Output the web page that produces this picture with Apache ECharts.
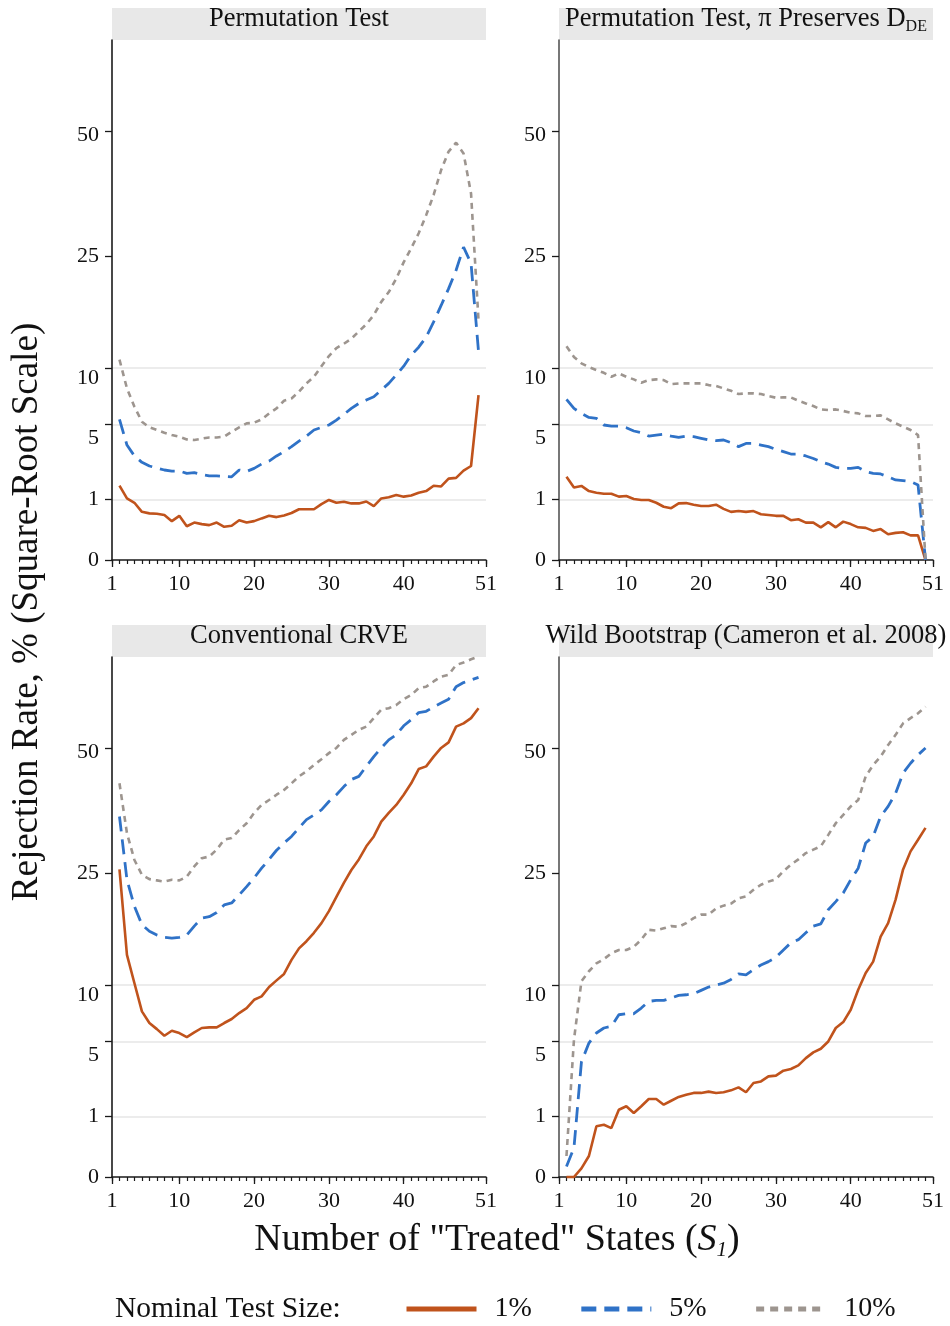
<!DOCTYPE html>
<html>
<head>
<meta charset="utf-8">
<script src="https://cdn.jsdelivr.net/npm/echarts@6/dist/echarts.min.js"></script>
<style>
  html, body { margin: 0; padding: 0; background: #fff; }
  #chart { width: 950px; height: 1326px; }
</style>
</head>
<body>
<div id="chart"></div>
<script>
// number of "treated" states on the x axis
const states = [2, 3, 4, 5, 6, 7, 8, 9, 10, 11, 12, 13, 14, 15, 16, 17, 18, 19, 20, 21, 22, 23, 24, 25, 26,
  27, 28, 29, 30, 31, 32, 33, 34, 35, 36, 37, 38, 39, 40, 41, 42, 43, 44, 45, 46, 47, 48, 49, 50]

// rejection rates in percent, one array per panel and nominal size
const permOne = [1.50, 1.03, 0.89, 0.63, 0.59, 0.58, 0.55, 0.41, 0.53, 0.31, 0.38, 0.35, 0.33, 0.38, 0.30, 0.32, 0.43,
  0.38, 0.41, 0.47, 0.53, 0.50, 0.54, 0.60, 0.70, 0.70, 0.70, 0.85, 0.98, 0.89, 0.92, 0.87, 0.87, 0.93, 0.79, 1.03,
  1.07, 1.15, 1.09, 1.13, 1.23, 1.29, 1.50, 1.47, 1.80, 1.83, 2.17, 2.40, 7.39]
const permFive = [5.37, 3.59, 2.94, 2.59, 2.40, 2.30, 2.20, 2.15, 2.15, 2.04, 2.07, 1.98, 1.92, 1.92, 1.90, 1.88, 2.20,
  2.13, 2.28, 2.50, 2.66, 2.94, 3.19, 3.49, 3.84, 4.17, 4.59, 4.78, 4.95, 5.32, 5.76, 6.24, 6.66, 6.95, 7.24, 7.84,
  8.47, 9.3, 10.2, 11.4, 12.3, 13.5, 15.4, 17.6, 20.0, 22.8, 26.6, 23.9, 11.8]
const permTen = [10.9, 8.0, 6.38, 5.19, 4.78, 4.59, 4.40, 4.24, 4.13, 3.95, 3.91, 4.00, 4.08, 4.08, 4.13, 4.47, 4.78,
  5.07, 5.12, 5.37, 5.84, 6.24, 6.89, 7.09, 7.69, 8.47, 9.12, 10.2, 11.3, 12.2, 12.7, 13.3, 14.2, 15.1, 16.3, 18.1,
  19.5, 21.5, 24.1, 26.4, 29.0, 32.3, 36.2, 41.3, 45.3, 47.3, 44.9, 36.5, 15.6]

const presOne = [1.88, 1.43, 1.49, 1.29, 1.23, 1.19, 1.19, 1.09, 1.11, 1.01, 0.98, 0.98, 0.89, 0.77, 0.73, 0.87, 0.88,
  0.83, 0.79, 0.79, 0.83, 0.71, 0.63, 0.65, 0.63, 0.65, 0.57, 0.55, 0.53, 0.53, 0.43, 0.45, 0.38, 0.38, 0.29, 0.39,
  0.29, 0.40, 0.35, 0.29, 0.28, 0.23, 0.26, 0.18, 0.20, 0.21, 0.165, 0.165, 0]
const presFive = [7.01, 6.24, 5.84, 5.52, 5.45, 4.95, 4.87, 4.87, 4.75, 4.52, 4.40, 4.17, 4.24, 4.29, 4.17, 4.08, 4.17,
  4.13, 4.02, 3.91, 3.87, 3.91, 3.74, 3.49, 3.69, 3.69, 3.59, 3.49, 3.32, 3.19, 3.05, 3.05, 2.94, 2.80, 2.62, 2.50,
  2.33, 2.28, 2.28, 2.33, 2.12, 2.04, 2.01, 1.88, 1.74, 1.71, 1.67, 1.53, 0]
const presTen = [12.4, 11.2, 10.5, 10.1, 9.80, 9.52, 9.12, 9.46, 9.12, 8.86, 8.53, 8.79, 8.86, 8.79, 8.41, 8.47, 8.47,
  8.47, 8.47, 8.31, 8.22, 8.00, 7.78, 7.48, 7.54, 7.54, 7.48, 7.30, 7.15, 7.18, 7.18, 6.89, 6.66, 6.44, 6.16, 6.11,
  6.16, 6.03, 5.89, 5.84, 5.63, 5.63, 5.68, 5.37, 5.07, 4.83, 4.59, 4.24, 0]

const crveOne = [25.7, 13.4, 10.2, 7.45, 6.44, 5.94, 5.42, 5.81, 5.63, 5.32, 5.68, 6.03, 6.08, 6.08, 6.44, 6.78, 7.30,
  7.75, 8.53, 8.86, 9.80, 10.5, 11.2, 12.8, 14.2, 15.1, 16.2, 17.5, 19.2, 21.3, 23.5, 25.6, 27.4, 29.7, 31.5, 34.3,
  36.0, 37.6, 39.7, 42.1, 45.2, 45.8, 48.0, 50.0, 51.3, 55.1, 55.9, 57.2, 59.7]
const crveFive = [35.3, 24.0, 19.9, 17.3, 16.4, 15.9, 15.6, 15.5, 15.6, 15.9, 17.1, 18.2, 18.4, 19.0, 20.1, 20.4, 21.6,
  22.9, 24.3, 25.9, 27.4, 29.0, 30.3, 31.5, 33.1, 34.7, 35.6, 36.6, 38.3, 39.7, 41.4, 42.9, 43.6, 45.8, 48.0, 50.0,
  51.9, 53.1, 55.3, 56.8, 58.6, 58.9, 60.0, 61.0, 62.0, 65.3, 66.4, 67.1, 67.8]
const crveTen = [42.1, 32.1, 27.3, 24.8, 24.1, 23.9, 23.7, 24.0, 23.9, 24.5, 26.2, 27.6, 27.9, 29.1, 30.9, 31.2, 32.7,
  34.0, 36.0, 37.6, 38.6, 39.7, 40.7, 42.1, 43.6, 44.7, 46.1, 47.4, 48.8, 50.0, 51.9, 53.1, 54.3, 55.1, 57.2, 59.3,
  59.7, 60.5, 62.0, 63.1, 64.9, 65.3, 66.7, 68.0, 68.5, 71.2, 71.9, 72.8, 73.6]

const wildOne = [0, 0, 0.02, 0.12, 0.70, 0.74, 0.65, 1.23, 1.36, 1.11, 1.36, 1.65, 1.65, 1.42, 1.58, 1.74, 1.84,
  1.92, 1.92, 1.98, 1.92, 1.95, 2.04, 2.18, 1.95, 2.40, 2.48, 2.75, 2.79, 3.07, 3.17, 3.38, 3.84, 4.22, 4.47, 4.99,
  6.03, 6.52, 7.60, 9.52, 11.3, 12.6, 15.7, 17.5, 20.9, 25.7, 28.8, 30.9, 33.1]
const wildFive = [0.03, 0.23, 3.6, 4.87, 5.63, 6.03, 6.16, 7.15, 7.24, 7.24, 7.75, 8.38, 8.47, 8.47, 8.70, 8.96, 9.02,
  9.12, 9.46, 9.80, 10.0, 10.2, 10.6, 11.2, 11.1, 11.7, 12.2, 12.6, 13.1, 14.0, 14.9, 15.3, 16.2, 17.1, 17.4, 19.4,
  20.6, 21.9, 24.0, 25.9, 30.3, 31.5, 35.3, 37.3, 40.0, 44.3, 46.5, 48.4, 50.0]
const wildTen = [0.12, 5.12, 10.4, 11.5, 12.4, 12.9, 13.6, 14.0, 14.0, 14.4, 15.3, 16.6, 16.5, 16.8, 17.1, 17.0, 17.5,
  18.2, 18.7, 18.7, 19.6, 20.0, 20.3, 21.1, 21.4, 22.4, 23.2, 23.7, 24.1, 25.4, 26.5, 27.4, 28.5, 29.1, 29.7, 31.8,
  34.0, 35.6, 37.3, 38.6, 43.6, 46.1, 48.0, 50.7, 53.1, 55.9, 57.2, 58.4, 60.1]

const sizeNames = ['1%', '5%', '10%']
const xLabelValues = [1, 10, 20, 30, 40, 51]
const yTickPercents = [0, 1, 5, 10, 25, 50]
const yTickLabels = ['0', '1', '5', '10', '25', '50']
// the printed figure puts the labels on rounded root positions, not on the ticks
const yLabelRoots = [0, 1, 2, 3, 5, 7]
const gridPercents = [1, 5, 10]

const FONT = 'Liberation Serif'
const ROOT_TOP = 8.57
const PLOT_W = 374
const PLOT_H = 520

const lineStyles = [
  { color: '#c0531c', width: 2.6, type: 'solid' },
  { color: '#2f72c7', width: 2.8, type: [15, 8] },
  { color: '#9d958f', width: 2.6, type: [6, 5] }
]

const panels = [
  { title: 'Permutation Test', left: 112, top: 40, axisColor: '#1a1a1a', data: [permOne, permFive, permTen] },
  { title: '{t|Permutation Test, π Preserves D}{s|DE}', left: 559, top: 40, axisColor: '#555', data: [presOne, presFive, presTen] },
  { title: 'Conventional CRVE', left: 112, top: 657, axisColor: '#1a1a1a', data: [crveOne, crveFive, crveTen] },
  { title: 'Wild Bootstrap (Cameron et al. 2008)', left: 559, top: 657, axisColor: '#555', data: [wildOne, wildFive, wildTen] }
]

const chart = echarts.init(document.getElementById('chart'), null, { renderer: 'canvas' })

const allStates = []
for (let s = 1; s <= 51; s++) allStates.push(s)

const option = {
  animation: false,
  backgroundColor: '#fff',
  textStyle: { fontFamily: FONT },
  grid: [],
  xAxis: [],
  yAxis: [],
  series: [],
  graphic: [],
  legend: {
    left: 404,
    top: 1295,
    padding: 0,
    itemWidth: 70,
    itemHeight: 14,
    itemGap: 47,
    selectedMode: false,
    itemStyle: { opacity: 0 },
    lineStyle: { width: 5 },
    textStyle: { fontFamily: FONT, fontSize: 28, color: '#111', padding: [0, 0, 0, 13] },
    data: [{ name: '1%' }, { name: '5%' }, { name: '10%', lineStyle: { type: [8, 6] } }]
  }
}

panels.forEach((p, i) => {
  option.grid.push({ left: p.left, top: p.top, width: PLOT_W, height: PLOT_H, containLabel: false, outerBoundsMode: 'none' })

  // main x axis with major ticks, plus a bare one for the small ticks
  option.xAxis.push({
    gridIndex: i, type: 'value', min: 1, max: 51, position: 'bottom',
    axisLine: { onZero: false, lineStyle: { color: '#1a1a1a', width: 1.5 } },
    axisTick: { customValues: xLabelValues, length: 7, lineStyle: { color: '#1a1a1a', width: 1.3 } },
    axisLabel: { customValues: xLabelValues, margin: 13, fontSize: 22, fontFamily: FONT, color: '#111' },
    splitLine: { show: false }
  })
  option.xAxis.push({
    gridIndex: i, type: 'value', min: 1, max: 51, position: 'bottom',
    axisLine: { show: false },
    axisTick: { customValues: allStates, length: 4, lineStyle: { color: '#1a1a1a', width: 1.2 } },
    axisLabel: { show: false },
    splitLine: { show: false }
  })

  option.yAxis.push({
    gridIndex: i, type: 'value', min: 0, max: ROOT_TOP, position: 'left',
    axisLine: { show: true, onZero: false, lineStyle: { color: p.axisColor, width: 1.6 } },
    axisTick: { show: true, customValues: yTickPercents.map(Math.sqrt), length: 7, lineStyle: { color: '#1a1a1a', width: 1.3 } },
    axisLabel: {
      customValues: yLabelRoots, margin: 13, fontSize: 22, fontFamily: FONT, color: '#111',
      formatter: v => yTickLabels[yLabelRoots.indexOf(v)]
    },
    splitLine: { show: false }
  })
  // light horizontal guides at 1, 5 and 10 percent
  option.yAxis.push({
    gridIndex: i, type: 'value', min: 0, max: ROOT_TOP, position: 'right',
    axisLine: { show: false },
    axisTick: { show: false, customValues: gridPercents.map(Math.sqrt) },
    axisLabel: { show: false },
    splitLine: { show: true, lineStyle: { color: '#e6e6e6', width: 1.6 } }
  })

  p.data.forEach((vals, k) => {
    option.series.push({
      name: sizeNames[k],
      type: 'line',
      xAxisIndex: i * 2,
      yAxisIndex: i * 2,
      symbol: 'none',
      clip: false,
      lineStyle: lineStyles[k],
      itemStyle: { color: lineStyles[k].color },
      data: states.map((s, j) => [s, Math.sqrt(vals[j])])
    })
  })

  option.graphic.push({
    type: 'rect', silent: true,
    shape: { x: p.left, y: p.top - 32, width: PLOT_W, height: 32 },
    style: { fill: '#e8e8e8' }
  })
  option.graphic.push({
    type: 'text', silent: true,
    x: p.left + PLOT_W / 2, y: p.top - 21,
    style: {
      text: p.title, fontSize: 26.5, fontFamily: FONT, fill: '#111', align: 'center', verticalAlign: 'middle',
      rich: {
        t: { fontSize: 26.5, fontFamily: FONT, fill: '#111', lineHeight: 31 },
        s: { fontSize: 16, fontFamily: FONT, fill: '#111', verticalAlign: 'bottom' }
      }
    }
  })
})

option.graphic.push({
  type: 'text', silent: true, x: 27, y: 612, rotation: Math.PI / 2,
  style: { text: 'Rejection Rate, % (Square-Root Scale)', fontSize: 37, fontFamily: FONT, fill: '#111', align: 'center', verticalAlign: 'middle' }
})
option.graphic.push({
  type: 'text', silent: true, x: 497, y: 1240,
  style: {
    text: '{n|Number of "Treated" States (}{s|S}{b|1}{n|)}', align: 'center', verticalAlign: 'middle',
    rich: {
      n: { fontSize: 38, fontFamily: FONT, fill: '#111', lineHeight: 42 },
      s: { fontSize: 38, fontFamily: FONT, fontStyle: 'italic', fill: '#111', lineHeight: 42 },
      b: { fontSize: 21, fontFamily: FONT, fontStyle: 'italic', fill: '#111', verticalAlign: 'bottom' }
    }
  }
})
option.graphic.push({
  type: 'text', silent: true, x: 115, y: 1309,
  style: { text: 'Nominal Test Size:', fontSize: 29.5, fontFamily: FONT, fill: '#111', align: 'left', verticalAlign: 'middle' }
})

chart.setOption(option)
</script>
</body>
</html>
